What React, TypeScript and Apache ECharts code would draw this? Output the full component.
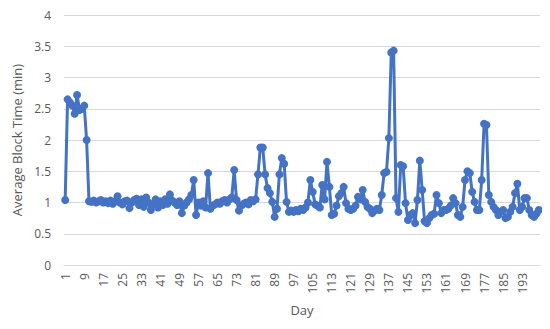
import React, { useEffect, useRef } from "react";
import * as echarts from "echarts";

const blockTimes: number[] = [
  1.04, 2.65, 2.6, 2.55, 2.42, 2.72, 2.48, 2.5, 2.55, 2.0,
  1.02, 1.01, 1.03, 1.0, 1.02, 1.04, 1.0, 1.02, 0.99, 1.03,
  0.98, 1.02, 1.1, 1.0, 0.97, 1.02, 1.03, 0.91, 1.0, 1.04,
  1.06, 0.96, 1.05, 0.93, 1.08, 1.0, 0.88, 0.97, 1.05, 0.92,
  1.02, 0.96, 1.05, 0.98, 1.13, 1.03, 1.0, 0.96, 1.02, 0.83,
  0.95, 1.0, 1.05, 1.12, 1.36, 0.8, 1.0, 0.95, 1.02, 0.92,
  1.47, 0.9, 0.95, 0.97, 1.0, 0.98, 1.02, 1.04, 1.0, 1.05,
  1.08, 1.52, 1.04, 0.87, 0.95, 0.98, 1.0, 0.97, 1.04, 1.02,
  1.05, 1.45, 1.88, 1.88, 1.45, 1.23, 1.15, 1.01, 0.77, 0.9,
  1.45, 1.71, 1.62, 1.01, 0.85, 0.87, 0.85, 0.88, 0.86, 0.9,
  0.88, 0.92, 1.0, 1.36, 1.17, 0.97, 0.95, 0.92, 1.28, 1.05,
  1.65, 1.25, 0.8, 0.82, 0.95, 1.1, 1.15, 1.25, 0.99, 0.9,
  0.88, 0.9, 0.95, 1.09, 1.05, 1.2, 1.01, 0.93, 0.9, 0.83,
  0.87, 0.9, 0.88, 1.12, 1.47, 1.49, 2.03, 3.4, 3.43, 1.07,
  0.85, 1.6, 1.58, 0.99, 0.72, 0.8, 0.83, 0.67, 1.04, 1.67,
  1.2, 0.7, 0.67, 0.75, 0.8, 0.82, 1.12, 0.99, 0.83, 0.88,
  0.88, 0.9, 0.95, 1.07, 0.99, 0.8, 0.77, 0.93, 1.36, 1.5,
  1.47, 1.17, 1.01, 0.88, 0.88, 1.36, 2.26, 2.24, 1.12, 1.01,
  0.93, 0.88, 0.8, 0.85, 0.88, 0.75, 0.77, 0.85, 0.93, 1.15,
  1.3, 0.88, 0.93, 1.07, 1.07, 0.88, 0.8, 0.77, 0.82, 0.88,
];

const days: string[] = blockTimes.map((_, i) => String(i + 1));

const yTicks = { min: 0, max: 4, interval: 0.5 };

export default function App() {
  const ref = useRef<HTMLDivElement>(null);
  useEffect(() => {
    if (!ref.current) return;
    const chart = echarts.init(ref.current, undefined, { renderer: "svg" });
    const font = "'Open Sans', 'Liberation Sans', sans-serif";
    chart.setOption({
      animation: false,
      backgroundColor: "#ffffff",
      textStyle: { fontFamily: font },
      grid: {
        left: 56,
        right: 2,
        top: 7,
        bottom: 56,
        containLabel: false,
        outerBoundsMode: "none",
      },
      xAxis: {
        type: "category",
        data: days,
        boundaryGap: true,
        name: "Day",
        nameLocation: "middle",
        nameGap: 38,
        nameTextStyle: { color: "#595959", fontSize: 13, fontFamily: font },
        axisLine: { lineStyle: { color: "#d9d9d9", width: 1 } },
        axisTick: { show: false },
        axisLabel: {
          interval: 7,
          rotate: 90,
          color: "#595959",
          fontSize: 12,
          fontFamily: font,
          margin: 8,
        },
        splitLine: { show: false },
      },
      yAxis: {
        type: "value",
        min: yTicks.min,
        max: yTicks.max,
        interval: yTicks.interval,
        name: "Average Block Time (min)",
        nameLocation: "middle",
        nameGap: 34,
        nameRotate: 90,
        nameTextStyle: { color: "#595959", fontSize: 13, fontFamily: font },
        axisLine: { show: false },
        axisTick: { show: false },
        axisLabel: { color: "#595959", fontSize: 12, fontFamily: font, margin: 13 },
        splitLine: { lineStyle: { color: "#d9d9d9", width: 1 } },
      },
      series: [
        {
          type: "line",
          data: blockTimes,
          symbol: "circle",
          symbolSize: 8,
          showAllSymbol: true,
          lineStyle: { color: "#4472C4", width: 3 },
          itemStyle: { color: "#4472C4" },
        },
      ],
    });
    return () => chart.dispose();
  }, []);
  return <div ref={ref} style={{ width: 534, height: 313 }} />;
}
